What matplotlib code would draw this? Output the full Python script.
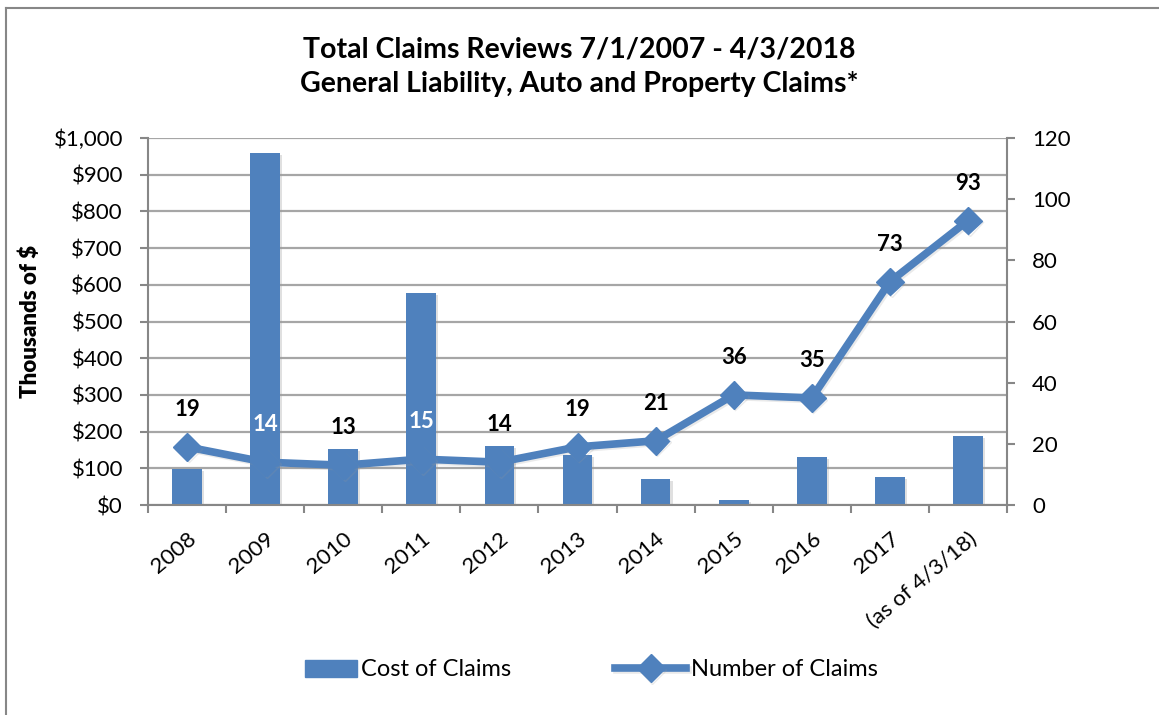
import matplotlib.pyplot as plt
import matplotlib.patches as mpatches
import matplotlib.patheffects as pe
from matplotlib.legend_handler import HandlerPatch
from matplotlib.ticker import FuncFormatter, MultipleLocator
import numpy as np

plt.rcParams['font.family'] = ['Lato', 'DejaVu Sans']

categories = ['2008', '2009', '2010', '2011', '2012', '2013', '2014',
              '2015', '2016', '2017', '(as of 4/3/18)']
cost = [98, 960, 153, 578, 160, 137, 72, 13, 132, 77, 187]   # thousands of $
count = [19, 14, 13, 15, 14, 19, 21, 36, 35, 73, 93]
label_colors = ['black', 'white', 'black', 'white', 'black', 'black',
                'black', 'black', 'black', 'black', 'black']

blue = '#4F81BD'
grey = '#878787'

fig = plt.figure(figsize=(11.59, 7.15), dpi=100)
ax = fig.add_axes([148 / 1159, 1 - 505 / 715, 859 / 1159, 367 / 715])
ax2 = ax.twinx()

x = np.arange(len(categories))

# bars for cost, behind the line
bars = ax.bar(x, cost, width=0.38, color=blue, zorder=2)
for b in bars:
    b.set_path_effects([pe.SimplePatchShadow(offset=(1.5, -1.5), shadow_rgbFace='#999999',
                                             alpha=0.3), pe.Normal()])
ax.set_xlim(-0.5, len(categories) - 0.5)
ax.set_ylim(0, 1000)
ax.yaxis.set_major_locator(MultipleLocator(100))
ax.yaxis.set_major_formatter(FuncFormatter(lambda v, p: f'${v:,.0f}'))
ax.grid(axis='y', color='#A6A6A6', linewidth=1.6, zorder=0)
ax.set_axisbelow(True)

# excel style ticks between categories
ax.set_xticks(np.arange(-0.5, len(categories), 1.0))
ax.set_xticklabels([])
ax.set_xticks(x, minor=True)
ax.set_xticklabels(categories, minor=True, rotation=40, ha='right',
                   rotation_mode='anchor', fontsize=16)
ax.tick_params(axis='x', which='minor', length=0, pad=17)
ax.tick_params(axis='x', which='major', length=6, width=1.5, color=grey)
ax.tick_params(axis='y', length=6, width=1.5, color=grey, labelsize=16, pad=12)

for side in ['top', 'right']:
    ax.spines[side].set_visible(False)
ax.spines['left'].set_color(grey)
ax.spines['left'].set_linewidth(1.5)
ax.spines['bottom'].set_color(grey)
ax.spines['bottom'].set_linewidth(1.5)

ax.set_ylabel('Thousands of $', fontsize=16)
ax.yaxis.label.set_fontweight('heavy')
ax.yaxis.set_label_coords(-107 / 859, 0.5)

# line for number of claims
line, = ax2.plot(x, count, color=blue, linewidth=5.5, marker='D', markersize=14,
                 zorder=3,
                 path_effects=[pe.SimpleLineShadow(offset=(1.2, -1.2), shadow_color='#999999',
                                                   alpha=0.2), pe.Normal()])
ax2.set_ylim(0, 120)
ax2.yaxis.set_major_locator(MultipleLocator(20))
ax2.tick_params(axis='y', length=6, width=1.5, color=grey, labelsize=16, pad=12)
for side in ['top', 'left', 'bottom']:
    ax2.spines[side].set_visible(False)
ax2.spines['right'].set_color(grey)
ax2.spines['right'].set_linewidth(1.5)

for xi, n, c in zip(x, count, label_colors):
    ax2.annotate(str(n), (xi, n), xytext=(0, 27), textcoords='offset points',
                 ha='center', va='center', fontsize=16, fontweight='bold',
                 color=c, zorder=5)

fig.text(0.5, 1 - 67 / 715, 'Total Claims Reviews 7/1/2007 - 4/3/2018\n'
         'General Liability, Auto and Property Claims*',
         ha='center', va='center', fontsize=20.5, fontweight='bold',
         linespacing=1.4)


def narrow_box(legend, orig_handle, xdescent, ydescent, width, height, fontsize):
    # shorter swatch for the bar entry, flush against its text
    return mpatches.Rectangle((13.5 - xdescent, -ydescent), width - 13.5, height)


bar_key = mpatches.Patch(color=blue)
fig.legend([bar_key, line], ['Cost of Claims', 'Number of Claims'],
           loc='center', bbox_to_anchor=(0.502, 1 - 670 / 715),
           ncol=2, frameon=False, fontsize=17, columnspacing=4.4,
           handlelength=3, handletextpad=0.2,
           handler_map={mpatches.Patch: HandlerPatch(patch_func=narrow_box)})

# chart frame
fig.add_artist(plt.Line2D([6 / 1159, 1], [1 - 8 / 715, 1 - 8 / 715],
                          transform=fig.transFigure, color=grey, linewidth=1.5))
fig.add_artist(plt.Line2D([6 / 1159, 6 / 1159], [0, 1 - 8 / 715],
                          transform=fig.transFigure, color=grey, linewidth=1.5))

fig.savefig('out.png', dpi=100)
